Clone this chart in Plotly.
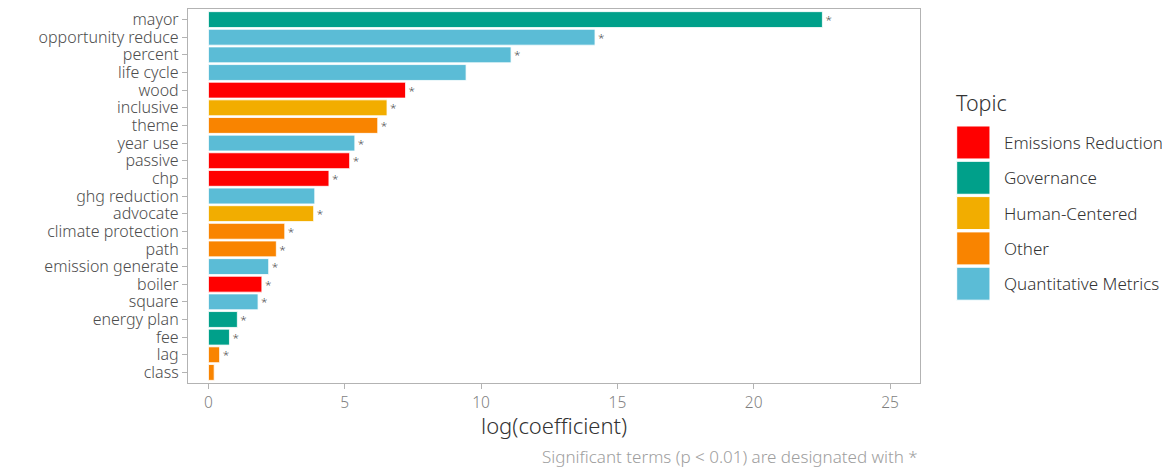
import plotly.graph_objects as go

terms = ["mayor", "opportunity reduce", "percent", "life cycle", "wood", "inclusive",
         "theme", "year use", "passive", "chp", "ghg reduction", "advocate",
         "climate protection", "path", "emission generate", "boiler", "square",
         "energy plan", "fee", "lag", "class"]
values = [22.52, 14.18, 11.10, 9.45, 7.23, 6.55, 6.21, 5.37, 5.18, 4.42, 3.90, 3.86,
          2.80, 2.49, 2.21, 1.96, 1.82, 1.06, 0.77, 0.41, 0.21]
topics = ["Governance", "Quantitative Metrics", "Quantitative Metrics", "Quantitative Metrics",
          "Emissions Reduction", "Human-Centered", "Other", "Quantitative Metrics",
          "Emissions Reduction", "Emissions Reduction", "Quantitative Metrics", "Human-Centered",
          "Other", "Other", "Quantitative Metrics", "Emissions Reduction", "Quantitative Metrics",
          "Governance", "Governance", "Other", "Other"]
significant = [True, True, True, False, True, True, True, True, True, True, False, True,
               True, True, True, True, True, True, True, True, False]

topic_order = ["Emissions Reduction", "Governance", "Human-Centered", "Other", "Quantitative Metrics"]
topic_colors = ["#FF0000", "#00A08A", "#F2AD00", "#F98400", "#5BBCD6"]
x_ticks = [0, 5, 10, 15, 20, 25]

FONT = "Noto Sans"
W = 300
fig = go.Figure()
for t, c in zip(topic_order, topic_colors):
    idx = [i for i, tp in enumerate(topics) if tp == t]
    fig.add_trace(go.Bar(
        y=[terms[i] for i in idx],
        x=[values[i] for i in idx],
        orientation="h",
        name=t,
        marker=dict(color=c, line=dict(color="white", width=0.8)),
        width=0.9,
        text=["*" if significant[i] else "" for i in idx],
        textposition="outside",
        textfont=dict(family=FONT, size=14, color="#444444"),
        cliponaxis=False,
        hoverinfo="x+y",
        showlegend=False,
    ))

# legend drawn as key squares + labels (legend geometry in paper units)
shapes = []
annotations = []
key_x0, key_x1, txt_x = 1.0501, 1.0956, 1.1134
key_top, key_h, pitch = 0.6872, 0.0882, 0.0944
annotations.append(dict(
    text="Topic", xref="paper", yref="paper", x=key_x0 - 0.003, y=0.7513,
    xanchor="left", yanchor="middle", showarrow=False,
    font=dict(family=FONT, size=21.5, color="#333333", weight=W)))
for k, (t, c) in enumerate(zip(topic_order, topic_colors)):
    top = key_top - k * pitch
    shapes.append(dict(type="rect", xref="paper", yref="paper",
                       x0=key_x0, x1=key_x1, y0=top - key_h, y1=top,
                       fillcolor=c, line=dict(color="white", width=1)))
    annotations.append(dict(
        text=t, xref="paper", yref="paper", x=txt_x - 0.002, y=top - key_h / 2,
        xanchor="left", yanchor="middle", showarrow=False,
        font=dict(family=FONT, size=17, color="#333333", weight=W)))

# x-axis title and caption
annotations.append(dict(
    text="log(coefficient)", xref="paper", yref="paper", x=0.5, y=-0.113,
    xanchor="center", yanchor="middle", showarrow=False,
    font=dict(family=FONT, size=22, color="#333333", weight=W)))
annotations.append(dict(
    text="Significant terms (p < 0.01) are designated with *",
    xref="paper", yref="paper", x=1.0, y=-0.16, xanchor="right", yanchor="top",
    showarrow=False, font=dict(family=FONT, size=17, color="#9e9e9e", weight=W)))

fig.update_layout(
    width=1162, height=463,
    barmode="relative",
    plot_bgcolor="white", paper_bgcolor="white",
    margin=dict(l=180, r=250, t=1, b=88, autoexpand=False),
    font=dict(family=FONT, color="#4d4d4d", weight=W),
    showlegend=False,
    xaxis=dict(
        range=[-0.75, 26.1],
        tickvals=x_ticks,
        showgrid=False, zeroline=False, automargin=False,
        showline=True, mirror=True, linecolor="#b3b3b3", linewidth=1.2,
        ticks="outside", ticklen=5, tickcolor="#b3b3b3",
        tickfont=dict(family=FONT, size=15.5, color="#7f7f7f", weight=W),
    ),
    yaxis=dict(
        categoryorder="array", categoryarray=terms[::-1],
        tickmode="array", tickvals=terms,
        range=[-0.6, len(terms) - 0.4],
        showgrid=False, zeroline=False, automargin=False,
        showline=True, mirror=True, linecolor="#b3b3b3", linewidth=1.2,
        ticks="outside", ticklen=5, tickcolor="#b3b3b3",
        tickfont=dict(family=FONT, size=16, color="#4d4d4d", weight=W),
    ),
    shapes=shapes,
    annotations=annotations,
)

fig.write_html("out.html")
